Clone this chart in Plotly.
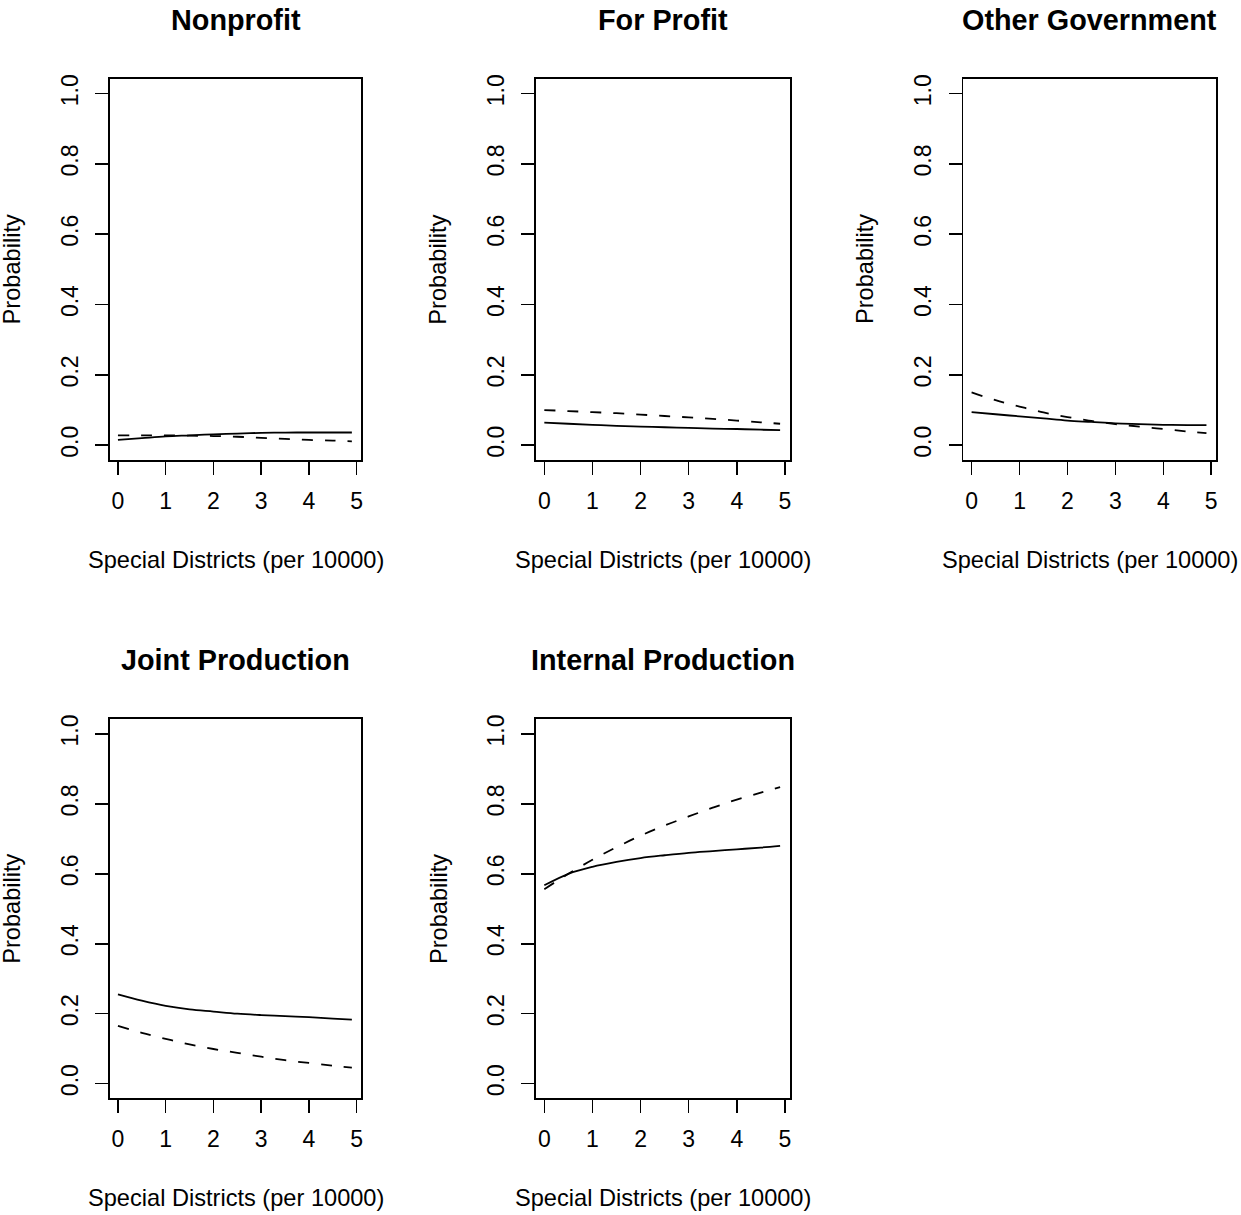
import plotly.graph_objects as go

# ---- data ----
x_vals = [0, 0.5, 1, 1.5, 2, 2.5, 3, 3.5, 4, 4.5, 4.9]

titles = ["Nonprofit", "For Profit", "Other Government", "Joint Production", "Internal Production"]

solid_nonprofit = [0.015, 0.020, 0.025, 0.028, 0.031, 0.033, 0.035, 0.036, 0.036, 0.036, 0.036]
dashed_nonprofit = [0.028, 0.028, 0.028, 0.027, 0.026, 0.024, 0.021, 0.018, 0.015, 0.013, 0.011]
solid_forprofit = [0.064, 0.061, 0.058, 0.055, 0.053, 0.051, 0.049, 0.047, 0.046, 0.044, 0.043]
dashed_forprofit = [0.100, 0.097, 0.094, 0.091, 0.087, 0.083, 0.079, 0.075, 0.070, 0.065, 0.061]
solid_othergov = [0.094, 0.088, 0.082, 0.076, 0.070, 0.066, 0.062, 0.060, 0.058, 0.057, 0.057]
dashed_othergov = [0.150, 0.128, 0.110, 0.093, 0.080, 0.069, 0.060, 0.053, 0.046, 0.039, 0.034]
solid_joint = [0.255, 0.237, 0.222, 0.212, 0.206, 0.200, 0.196, 0.193, 0.190, 0.186, 0.183]
dashed_joint = [0.165, 0.145, 0.128, 0.112, 0.099, 0.088, 0.077, 0.067, 0.059, 0.051, 0.046]
solid_internal = [0.567, 0.600, 0.620, 0.634, 0.645, 0.653, 0.660, 0.665, 0.670, 0.675, 0.680]
dashed_internal = [0.556, 0.600, 0.640, 0.676, 0.709, 0.738, 0.764, 0.789, 0.812, 0.832, 0.848]

solid_series = [solid_nonprofit, solid_forprofit, solid_othergov, solid_joint, solid_internal]
dashed_series = [dashed_nonprofit, dashed_forprofit, dashed_othergov, dashed_joint, dashed_internal]

x_ticks = [0, 1, 2, 3, 4, 5]
y_ticks = [0.0, 0.2, 0.4, 0.6, 0.8, 1.0]
x_label = "Special Districts (per 10000)"
y_label = "Probability"

# ---- layout geometry (pixels) ----
W, H = 1241, 1213
col_px = [(110, 362), (537, 791), (965, 1218)]
row_px = [(74, 457), (717, 1098)]
positions = [(0, 0), (0, 1), (0, 2), (1, 0), (1, 1)]

FONT = "Liberation Sans, Arial, Helvetica, sans-serif"

fig = go.Figure()
layout = dict(
    width=W, height=H,
    margin=dict(l=0, r=0, t=0, b=0),
    paper_bgcolor="white", plot_bgcolor="white",
    showlegend=False,
    font=dict(family=FONT, size=23, color="black"),
)
annotations = []

for i, (r, c) in enumerate(positions):
    n = i + 1
    xa = "x" if n == 1 else f"x{n}"
    ya = "y" if n == 1 else f"y{n}"
    x0, x1 = col_px[c]
    y0, y1 = row_px[r]
    xdom = [x0 / W, x1 / W]
    ydom = [1 - y1 / H, 1 - y0 / H]

    fig.add_trace(go.Scatter(x=x_vals, y=solid_series[i], mode="lines",
                             line=dict(color="black", width=1.8, shape="spline"),
                             xaxis=xa, yaxis=ya, hoverinfo="skip"))
    fig.add_trace(go.Scatter(x=x_vals, y=dashed_series[i], mode="lines",
                             line=dict(color="black", width=1.8, dash="11px,12px", shape="spline"),
                             xaxis=xa, yaxis=ya, hoverinfo="skip"))

    layout[f"xaxis{'' if n == 1 else n}"] = dict(
        domain=xdom, anchor=ya, range=[-0.17, 5.1],
        tickvals=x_ticks, ticktext=[str(t) for t in x_ticks],
        ticks="outside", ticklen=13, tickwidth=1.6, tickcolor="black",
        showline=True, mirror=True, linecolor="black", linewidth=1.8,
        showgrid=False, zeroline=False, fixedrange=True,
        tickfont=dict(family=FONT, size=23, color="black"),
        ticklabelstandoff=6,
    )
    layout[f"yaxis{'' if n == 1 else n}"] = dict(
        domain=ydom, anchor=xa, range=[-0.0425, 1.0425],
        tickvals=y_ticks, ticktext=[f"{t:.1f}" for t in y_ticks],
        tickangle=-90,
        ticks="outside", ticklen=13, tickwidth=1.6, tickcolor="black",
        showline=True, mirror=True, linecolor="black", linewidth=1.8,
        showgrid=False, zeroline=False, fixedrange=True,
        tickfont=dict(family=FONT, size=23, color="black"),
        ticklabelstandoff=8,
    )

    cx = (x0 + x1) / 2
    cy = (y0 + y1) / 2
    # panel title
    annotations.append(dict(text=f"<b>{titles[i]}</b>", xref="paper", yref="paper",
                            x=cx / W, y=1 - (y0 - 59) / H, xanchor="center", yanchor="middle",
                            showarrow=False, font=dict(family=FONT, size=28.8, color="black")))
    # x axis title
    annotations.append(dict(text=x_label, xref="paper", yref="paper",
                            x=cx / W, y=1 - (y1 + 100) / H, xanchor="center", yanchor="middle",
                            showarrow=False, font=dict(family=FONT, size=23.6, color="black")))
    # y axis title
    annotations.append(dict(text=y_label, xref="paper", yref="paper",
                            x=(x0 - 98) / W, y=1 - cy / H, xanchor="center", yanchor="middle",
                            textangle=-90,
                            showarrow=False, font=dict(family=FONT, size=23.6, color="black")))

layout["annotations"] = annotations
fig.update_layout(**layout)
fig.write_html("out.html",
               config={"displayModeBar": False, "staticPlot": True},
               post_script="document.body.style.margin='0';document.body.style.overflow='hidden';")
